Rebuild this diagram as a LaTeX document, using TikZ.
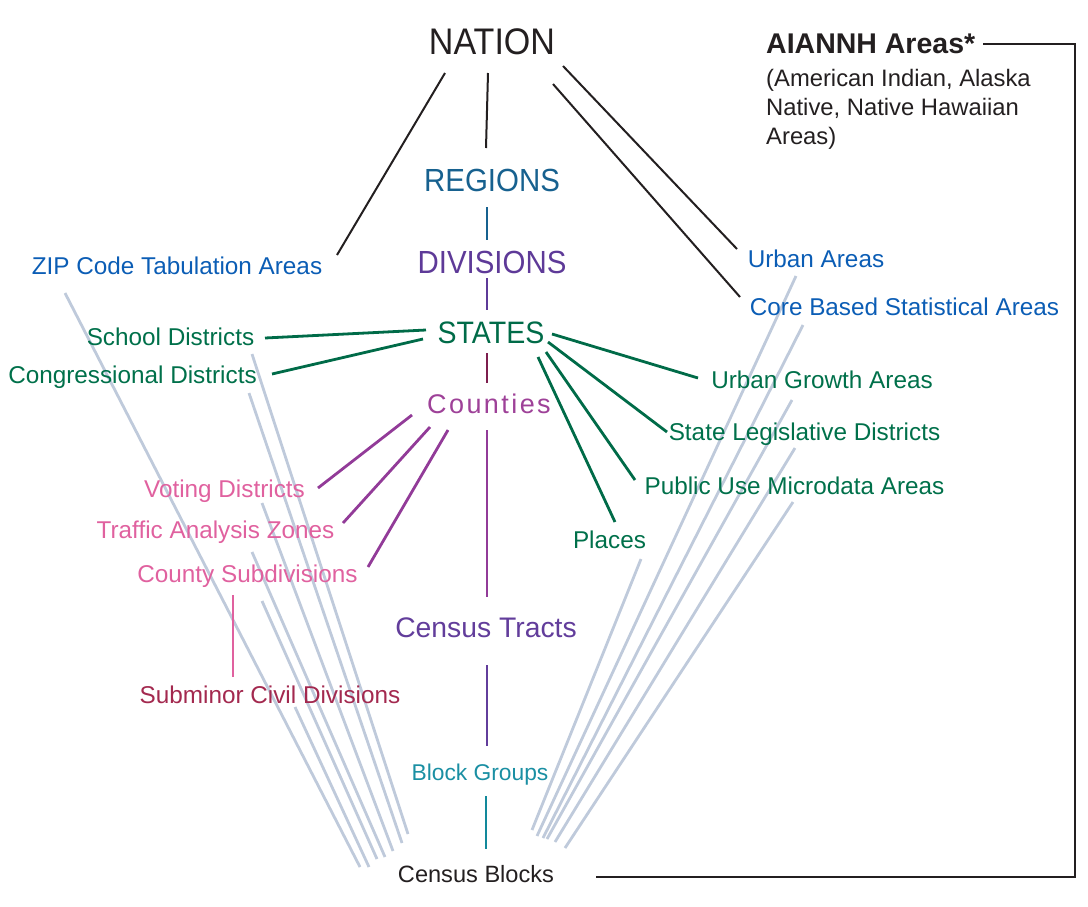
\documentclass[tikz,border=0pt]{standalone}
\usepackage{fontspec}
\setmainfont{Liberation Sans}
\newfontfamily\headfont[FakeStretch=0.92]{Liberation Sans}
\newfontfamily\spacedfont[LetterSpace=9]{Liberation Sans}
\definecolor{blk}{HTML}{231F20}
\definecolor{regC}{HTML}{17618F}
\definecolor{divC}{HTML}{5E3A98}
\definecolor{staC}{HTML}{006B48}
\definecolor{couC}{HTML}{9E4198}
\definecolor{bluC}{HTML}{0B5DB5}
\definecolor{grnC}{HTML}{00704A}
\definecolor{pnkC}{HTML}{E0619F}
\definecolor{subC}{HTML}{A3294F}
\definecolor{traC}{HTML}{623D9B}
\definecolor{bgC}{HTML}{1A8FA3}
\definecolor{gryC}{HTML}{BFCADB}
\definecolor{marC}{HTML}{7D1E4E}
\definecolor{purL}{HTML}{923B98}
\definecolor{tealL}{HTML}{12899B}
\pgfdeclarelayer{back}
\pgfsetlayers{back,main}
\begin{document}
\begin{tikzpicture}[x=1pt,y=-1pt,
  lbl/.style={inner sep=0pt, anchor=base},
  lab/.style={lbl, font=\fontsize{24.3}{29}\selectfont},
  head/.style={lbl, font=\headfont\fontsize{32}{36}\selectfont},
  blkline/.style={draw=blk, line width=2pt},
  grnline/.style={draw=staC, line width=2.8pt},
  purline/.style={draw=purL, line width=2.8pt},
  gryline/.style={draw=gryC, line width=2.8pt},
  vline/.style={line width=2.8pt}]
\useasboundingbox (0,0) rectangle (1088,906);
% ---- nodes
\node[lbl, font=\headfont\fontsize{37}{40}\selectfont, text=blk] (nation) at (492,54) {NATION};
\node[head, text=regC] (regions) at (492,191) {REGIONS};
\node[head, text=divC] (divisions) at (492,273) {DIVISIONS};
\node[head, text=staC, font=\headfont\fontsize{31}{36}\selectfont] (states) at (491,343) {STATES};
\node[lbl, text=couC, font=\spacedfont\fontsize{27}{30}\selectfont] (counties) at (489,413) {Counties};
\node[lbl, text=traC, font=\fontsize{28.3}{32}\selectfont] (tracts) at (486,637) {Census Tracts};
\node[lbl, text=bgC, font=\fontsize{22.8}{26}\selectfont] (bg) at (480,780) {Block Groups};
\node[lab, text=blk, font=\fontsize{23.6}{27}\selectfont] (blocks) at (476,882) {Census Blocks};
\node[lab, text=bluC] (zip) at (177,274) {ZIP Code Tabulation Areas};
\node[lab, text=grnC] (school) at (170.5,345) {School Districts};
\node[lab, text=grnC] (congr) at (132.5,383) {Congressional Districts};
\node[lab, text=bluC] (urban) at (816,267) {Urban Areas};
\node[lab, text=bluC] (cbsa) at (904.5,315) {Core Based Statistical Areas};
\node[lab, text=grnC] (ug) at (822,388) {Urban Growth Areas};
\node[lab, text=grnC] (sl) at (804.5,440) {State Legislative Districts};
\node[lab, text=grnC] (puma) at (794.5,494) {Public Use Microdata Areas};
\node[lab, text=grnC] (places) at (609.5,548) {Places};
\node[lab, text=pnkC] (voting) at (224.5,497) {Voting Districts};
\node[lab, text=pnkC] (traffic) at (215.5,538) {Traffic Analysis Zones};
\node[lab, text=pnkC] (csub) at (247.5,582) {County Subdivisions};
\node[lab, text=subC] (subminor) at (270,703) {Subminor Civil Divisions};
\node[lbl, anchor=base west, text=blk, font=\bfseries\fontsize{28.5}{32}\selectfont] (aiannh) at (766,53) {AIANNH Areas*};
\node[lab, anchor=base west, text=blk, font=\fontsize{23.8}{28}\selectfont] (aianA) at (766,86) {(American Indian, Alaska};
\node[lab, anchor=base west, text=blk, font=\fontsize{23.8}{28}\selectfont] (aianB) at (766,115) {Native, Native Hawaiian};
\node[lab, anchor=base west, text=blk, font=\fontsize{23.8}{28}\selectfont] (aianC) at (766,144) {Areas)};
\begin{pgfonlayer}{back}
% ---- gray lines to Census Blocks
\draw[gryline] ([shift={(-112,19)}]zip.base) -- ([shift={(-116,-15)}]blocks.base);
\draw[gryline] ([shift={(81.5,9)}]school.base) -- ([shift={(-68,-48)}]blocks.base);
\draw[gryline] ([shift={(116.5,10)}]congr.base) -- ([shift={(-74,-39)}]blocks.base);
\draw[gryline] ([shift={(37.5,6)}]voting.base) -- ([shift={(-83,-31)}]blocks.base);
\draw[gryline] ([shift={(36.5,14)}]traffic.base) -- ([shift={(-91,-25)}]blocks.base);
\draw[gryline] ([shift={(14.5,19)}]csub.base) -- ([shift={(-99,-23)}]blocks.base);
\draw[gryline] ([shift={(25,4)}]subminor.base) -- ([shift={(-107,-15)}]blocks.base);
\draw[gryline] ([shift={(31.5,11)}]places.base) -- ([shift={(56,-52)}]blocks.base);
\draw[gryline] ([shift={(-20,9)}]urban.base) -- ([shift={(61,-46)}]blocks.base);
\draw[gryline] ([shift={(-101.5,10)}]cbsa.base) -- ([shift={(67,-44)}]blocks.base);
\draw[gryline] ([shift={(-30,12)}]ug.base) -- ([shift={(71,-43)}]blocks.base);
\draw[gryline] ([shift={(-9.5,8)}]sl.base) -- ([shift={(79,-40)}]blocks.base);
\draw[gryline] ([shift={(-1.5,8)}]puma.base) -- ([shift={(89,-34)}]blocks.base);
% ---- black lines from NATION
\draw[blkline] ([shift={(-47,19)}]nation.base) -- ([shift={(160,-19)}]zip.base);
\draw[blkline] ([shift={(-4,19)}]nation.base) -- ([shift={(-6,-43)}]regions.base);
\draw[blkline] ([shift={(71,12)}]nation.base) -- ([shift={(-79,-18)}]urban.base);
\draw[blkline] ([shift={(61,30)}]nation.base) -- ([shift={(-164.5,-18)}]cbsa.base);
% ---- vertical hierarchy
\draw[vline, draw=regC] ([shift={(-5,16)}]regions.base) -- ([shift={(-5,-33)}]divisions.base);
\draw[vline, draw=divC] ([shift={(-5,5)}]divisions.base) -- ([shift={(-4,-33)}]states.base);
\draw[vline, draw=marC] ([shift={(-4,10)}]states.base) -- ([shift={(-2,-30)}]counties.base);
\draw[vline, draw=purL] ([shift={(-2,17)}]counties.base) -- ([shift={(1,-40)}]tracts.base);
\draw[vline, draw=traC] ([shift={(1,28)}]tracts.base) -- ([shift={(7,-34)}]bg.base);
\draw[vline, draw=tealL] ([shift={(6,16)}]bg.base) -- ([shift={(10,-33)}]blocks.base);
% ---- green lines from STATES
\draw[grnline] ([shift={(-65,-13)}]states.base) -- ([shift={(94.5,-7)}]school.base);
\draw[grnline] ([shift={(-68,-4)}]states.base) -- ([shift={(139.5,-9)}]congr.base);
\draw[grnline] ([shift={(61,-9)}]states.base) -- ([shift={(-124,-10)}]ug.base);
\draw[grnline] ([shift={(57,-1)}]states.base) -- ([shift={(-137.5,-8)}]sl.base);
\draw[grnline] ([shift={(55,9)}]states.base) -- ([shift={(-159.5,-14)}]puma.base);
\draw[grnline] ([shift={(47,14)}]states.base) -- ([shift={(5.5,-26)}]places.base);
% ---- purple lines from Counties
\draw[purline] ([shift={(-77,2)}]counties.base) -- ([shift={(93.5,-9)}]voting.base);
\draw[purline] ([shift={(-59,14)}]counties.base) -- ([shift={(127.5,-15)}]traffic.base);
\draw[purline] ([shift={(-41,17)}]counties.base) -- ([shift={(120.5,-15)}]csub.base);
% ---- pink line
\draw[line width=2.8pt, draw=pnkC] ([shift={(-14.5,13)}]csub.base) -- ([shift={(-37,-26)}]subminor.base);
% ---- AIANNH connector
\draw[blkline] ([shift={(217,-9)}]aiannh.base west) -- ++(92,0) |- ([shift={(120,-5)}]blocks.base);
\end{pgfonlayer}
\end{tikzpicture}
\end{document}
